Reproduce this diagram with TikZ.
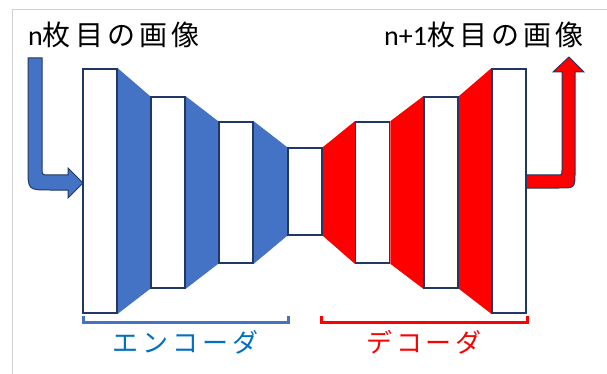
\documentclass[tikz,border=0pt]{standalone}
\usepackage{fontspec}
\setmainfont{Carlito}
\newfontfamily\jp[LetterSpace=15]{Noto Sans CJK JP}
\usetikzlibrary{backgrounds}
\definecolor{encblue}{HTML}{4472C4}
\definecolor{decred}{HTML}{FF0000}
\definecolor{navy}{HTML}{1F3864}
\definecolor{lblblue}{HTML}{0070C0}
\definecolor{framegray}{HTML}{D0D0D0}
\begin{document}
\begin{tikzpicture}[x=1pt,y=-1pt,
  layerbox/.style={draw=navy, fill=white, line width=1.5pt, minimum width=34pt, inner sep=0pt},
  arrowshape/.style={draw=navy, line width=1pt, line join=miter},
  titletext/.style={inner sep=0pt, font=\fontsize{28}{30}\selectfont},
  labeltext/.style={inner sep=0pt, font=\fontsize{26}{28}\selectfont\jp},
  bracket/.style={line width=3pt}]
\useasboundingbox (0,0) rectangle (607,374);
% frame
\draw[framegray, line width=1pt] (12,374) -- (12,10) -- (607,10);
% boxes
\node[layerbox, minimum height=244pt] (b1) at (100,191) {};
\node[layerbox, minimum height=191pt] (b2) at (168,192.5) {};
\node[layerbox, minimum height=141pt] (b3) at (236,192.5) {};
\node[layerbox, minimum height=87pt] (b4) at (305,191.5) {};
\node[layerbox, minimum height=141pt] (b5) at (372.5,192.5) {};
\node[layerbox, minimum height=191pt] (b6) at (441,192.5) {};
\node[layerbox, minimum height=244pt] (b7) at (509,191) {};
\begin{scope}[on background layer]
  \fill[encblue] (b1.north east) -- (b2.north west) -- (b2.south west) -- (b1.south east) -- cycle;
  \fill[encblue] (b2.north east) -- (b3.north west) -- (b3.south west) -- (b2.south east) -- cycle;
  \fill[encblue] (b3.north east) -- (b4.north west) -- (b4.south west) -- (b3.south east) -- cycle;
  \fill[decred] (b4.north east) -- (b5.north west) -- (b5.south west) -- (b4.south east) -- cycle;
  \fill[decred] (b5.north east) -- (b6.north west) -- (b6.south west) -- (b5.south east) -- cycle;
  \fill[decred] (b6.north east) -- (b7.north west) -- (b7.south west) -- (b6.south east) -- cycle;
  % output arrow (starts behind last box)
  \draw[arrowshape, fill=decred] (509,175) -- (557,175) .. controls (562,175) .. (562,170)
     -- (562,72) -- (553,72) -- (569,57) -- (584,72) -- (575,72) -- (575,172)
     .. controls (575,188) .. (559,188) -- (509,188) -- cycle;
\end{scope}
% input arrow
\draw[arrowshape, fill=encblue] (28,58) -- (42,58) -- (42,168) .. controls (42,175) .. (49,175)
   -- (68,175) -- (68,168) -- (83,183) -- (68,198) -- (68,190) -- (50,190)
   .. controls (28,190) .. (28,168) -- cycle;
% titles
\node[titletext, anchor=base west] (tin) at (28,46) {n{\jp 枚目の画像}};
\node[titletext, anchor=base east] (tout) at (584,46) {n+1{\jp 枚目の画像}};
% brackets
\draw[bracket, encblue] (83,316) -- (83,322) -- (288,322) -- (288,316);
\draw[bracket, decred] (321,316) -- (321,322) -- (527,322) -- (527,316);
\node[labeltext, text=lblblue] (enc) at (185.5,342) {エンコーダ};
\node[labeltext, text=decred] (dec) at (424,342) {デコーダ};
\end{tikzpicture}
\end{document}
